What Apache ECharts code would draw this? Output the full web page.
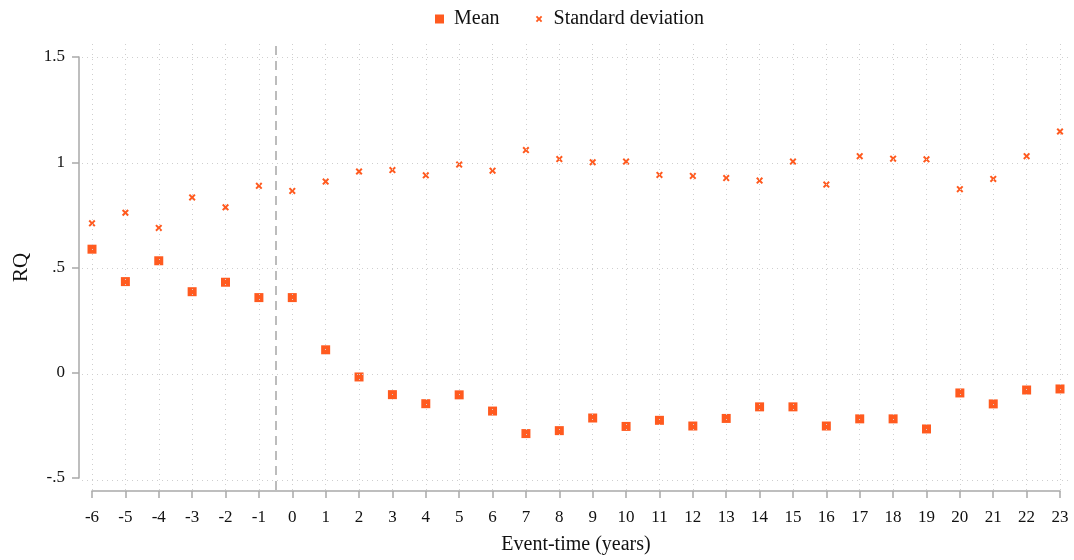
<!DOCTYPE html>
<html>
<head>
<meta charset="utf-8">
<script src="https://cdn.jsdelivr.net/npm/echarts@6/dist/echarts.min.js"></script>
<style>
  html, body { margin: 0; padding: 0; background: #fff; }
  #chart { width: 1074px; height: 560px; }
</style>
</head>
<body>
<div id="chart"></div>
<script>
// Event-time in years relative to the event
const eventTime = [-6, -5, -4, -3, -2, -1, 0, 1, 2, 3, 4, 5, 6, 7, 8, 9, 10, 11, 12, 13, 14, 15, 16, 17, 18, 19, 20, 21, 22, 23];
// Mean RQ per event-time
const meanRQ = [0.587, 0.433, 0.532, 0.385, 0.430, 0.357, 0.357, 0.109, -0.020, -0.104, -0.147, -0.105, -0.182, -0.289, -0.275, -0.215, -0.255, -0.226, -0.253, -0.217, -0.162, -0.162, -0.253, -0.219, -0.219, -0.267, -0.096, -0.148, -0.082, -0.077];
// Standard deviation of RQ per event-time
const sdRQ = [0.710, 0.760, 0.688, 0.833, 0.786, 0.888, 0.864, 0.908, 0.956, 0.963, 0.938, 0.989, 0.960, 1.058, 1.015, 1.000, 1.003, 0.940, 0.935, 0.925, 0.913, 1.003, 0.894, 1.029, 1.017, 1.014, 0.872, 0.921, 1.029, 1.146];
// Y-axis tick values and their printed labels
const yTicks = [-0.5, 0, 0.5, 1, 1.5];
const yTickLabels = ['-.5', '0', '.5', '1', '1.5'];
// Event date marker between -1 and 0
const eventLine = -0.5;

const ORANGE = '#ff5a1f';
const AXIS = '#a9a9a9';
const FONT = 'Liberation Serif';
const TEXT = '#111';
const crossPath = 'path://M0,2 L2,0 L5,3 L8,0 L10,2 L7,5 L10,8 L8,10 L5,7 L2,10 L0,8 L3,5 Z';
// same cross with empty margin so the legend key comes out smaller than the square key
const crossLegend = 'path://M-2,-2 M12,12 M0,2 L2,0 L5,3 L8,0 L10,2 L7,5 L10,8 L8,10 L5,7 L2,10 L0,8 L3,5 Z';

// Plot geometry (pixels)
const plotL = 92, plotR = 1060, plotT = 57, plotB = 480;
const outerL = 82, outerR = 1068, outerT = 44, outerB = 490;
const xMin = eventTime[0], xMax = eventTime[eventTime.length - 1];
const yMin = yTicks[0], yMax = yTicks[yTicks.length - 1];
const pxX = (plotR - plotL) / (xMax - xMin);
const pxY = (plotB - plotT) / (yMax - yMin);

const chart = echarts.init(document.getElementById('chart'));
chart.setOption({
  backgroundColor: '#fff',
  animation: false,
  legend: {
    top: 4,
    left: 430,
    itemWidth: 9,
    itemHeight: 9,
    itemGap: 35,
    textStyle: { fontFamily: FONT, fontSize: 20, color: TEXT, padding: [0, 0, 0, 5] },
    data: [
      { name: 'Mean', icon: 'rect' },
      { name: 'Standard deviation', icon: crossLegend }
    ]
  },
  grid: [
    // wide backdrop grid carrying the dotted grid lines
    { left: outerL, right: 1074 - outerR, top: outerT, bottom: 560 - outerB },
    // tick-range grid carrying the axes and data
    { left: plotL, right: 1074 - plotR, top: plotT, bottom: 560 - plotB }
  ],
  xAxis: [
    {
      gridIndex: 0, type: 'value', show: false,
      min: xMin - (plotL - outerL) / pxX, max: xMax + (outerR - plotR) / pxX
    },
    {
      gridIndex: 1, type: 'value', min: xMin, max: xMax, interval: 1, offset: 13,
      name: 'Event-time (years)', nameLocation: 'middle', nameGap: 44,
      nameTextStyle: { fontFamily: FONT, fontSize: 20, color: TEXT },
      axisLine: { show: true, onZero: false, lineStyle: { color: AXIS, width: 1.5 } },
      axisTick: { show: true, length: 7, lineStyle: { color: AXIS, width: 1.5 } },
      axisLabel: { fontFamily: FONT, fontSize: 17, color: TEXT, margin: 18 },
      splitLine: { show: false }
    }
  ],
  yAxis: [
    {
      gridIndex: 0, type: 'value', show: false,
      min: yMin - (outerB - plotB) / pxY, max: yMax + (plotT - outerT) / pxY
    },
    {
      gridIndex: 1, type: 'value', min: yMin, max: yMax, interval: 0.5, offset: 13,
      name: 'RQ', nameLocation: 'middle', nameGap: 47,
      nameTextStyle: { fontFamily: FONT, fontSize: 21, color: TEXT },
      axisLine: { show: true, onZero: false, lineStyle: { color: AXIS, width: 1.5 } },
      axisTick: { show: true, length: 7, lineStyle: { color: AXIS, width: 1.5 } },
      axisLabel: {
        fontFamily: FONT, fontSize: 17, color: TEXT, margin: 14,
        formatter: v => {
          const i = yTicks.findIndex(t => Math.abs(t - v) < 1e-9);
          return i >= 0 ? yTickLabels[i] : '';
        }
      },
      splitLine: { show: false }
    }
  ],
  series: [
    {
      name: 'gridlines',
      type: 'scatter',
      xAxisIndex: 0, yAxisIndex: 0,
      data: [],
      silent: true,
      markLine: {
        silent: true,
        symbol: 'none',
        label: { show: false },
        animation: false,
        data: [
          ...eventTime.map(t => ({ xAxis: t, lineStyle: { color: '#cfcfcf', type: [1, 4], width: 1 } })),
          ...yTicks.map(t => ({ yAxis: t, lineStyle: { color: '#cfcfcf', type: [1, 4], width: 1 } })),
          {
            xAxis: eventLine,
            lineStyle: { color: '#a6a6a6', type: [9, 6], width: 1.5 }
          }
        ]
      }
    },
    {
      name: 'Mean',
      type: 'scatter',
      xAxisIndex: 1, yAxisIndex: 1,
      symbol: 'rect',
      symbolSize: 9,
      clip: false,
      itemStyle: { color: ORANGE, opacity: 1 },
      data: eventTime.map((t, i) => [t, meanRQ[i]])
    },
    {
      name: 'Standard deviation',
      type: 'scatter',
      xAxisIndex: 1, yAxisIndex: 1,
      symbol: crossPath,
      symbolSize: 7,
      clip: false,
      itemStyle: { color: ORANGE, opacity: 1 },
      data: eventTime.map((t, i) => [t, sdRQ[i]])
    }
  ]
});
</script>
</body>
</html>
